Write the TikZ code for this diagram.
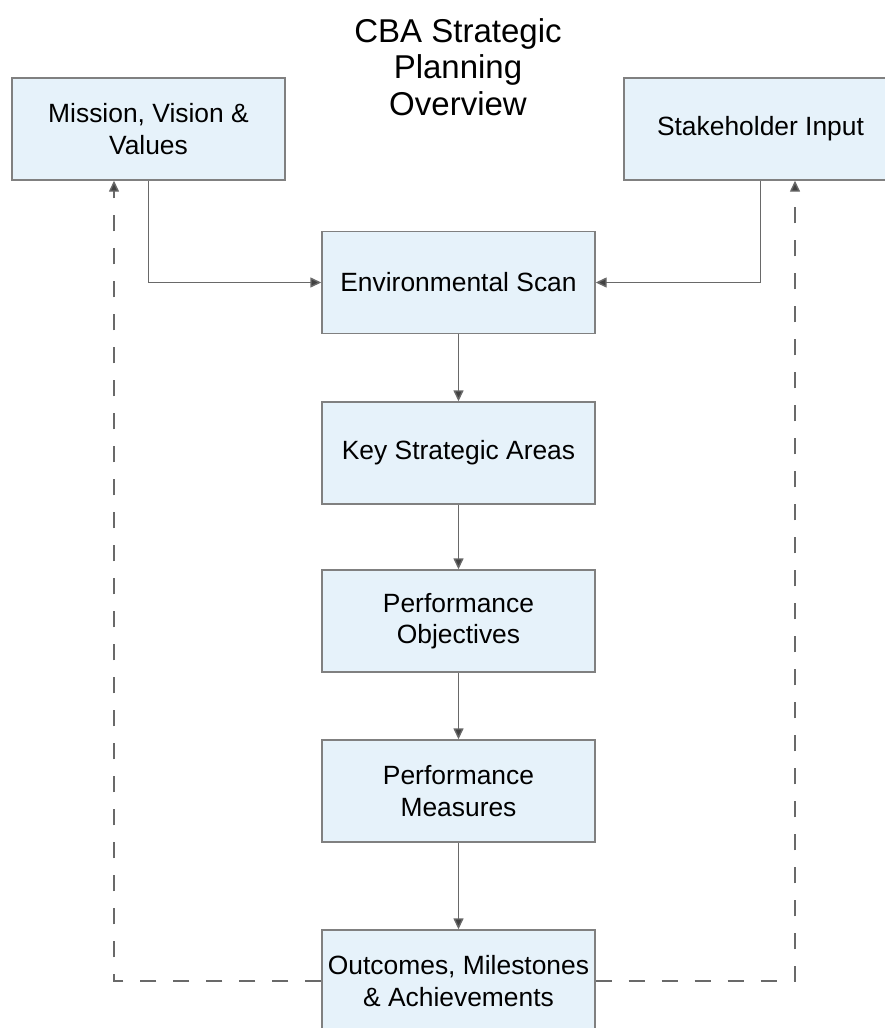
\documentclass[tikz,border=0pt]{standalone}
\usepackage{fontspec}
\setmainfont{Liberation Sans}
\usetikzlibrary{arrows.meta}
\definecolor{boxfill}{RGB}{230,242,250}
\definecolor{boxline}{RGB}{128,128,128}
\definecolor{flowline}{RGB}{105,105,105}
\definecolor{tipcolor}{RGB}{65,65,65}
\begin{document}
\begin{tikzpicture}[x=1pt, y=-1pt,
		stepbox/.style={draw=boxline, fill=boxfill, line width=1.4pt, minimum width=273pt, minimum height=102pt, inner sep=0pt, align=center, font=\fontsize{26.4}{31.5}\selectfont},
		flow/.style={draw=flowline, line width=1.4pt, -{Triangle[length=11pt, width=10pt, fill=tipcolor]}},
		feedback/.style={flow, dash pattern=on 16pt off 17pt}]
				\useasboundingbox (0,0) rectangle (885,1028);

				\node[align=center, font=\fontsize{33}{36.5}\selectfont] (title) at (458,67) {CBA Strategic\\Planning\\Overview};

				\node[stepbox] (mission) at (148.5,129) {Mission, Vision \&\\Values};
				\node[stepbox] (stake) at (760.5,129) {Stakeholder Input};
				\node[stepbox] (env) at (458.5,282.5) {Environmental Scan};
				\node[stepbox] (key) at (458.5,453) {Key Strategic Areas};
				\node[stepbox] (obj) at (458.5,621) {Performance\\Objectives};
				\node[stepbox] (meas) at (458.5,791) {Performance\\Measures};
				\node[stepbox] (out) at (458.5,981) {Outcomes, Milestones\\\& Achievements};

				\draw[flow] (mission.south) |- (env.west);
				\draw[flow] (stake.south) |- (env.east);

				\foreach \a/\b in {env/key, key/obj, obj/meas, meas/out}{
						\draw[flow] (\a.south) -- (\b.north);
					}

				\draw[feedback] (out.west) -| ([xshift=-34.5pt]mission.south);
				\draw[feedback] (out.east) -| ([xshift=34.5pt]stake.south);
			\end{tikzpicture}
\end{document}
